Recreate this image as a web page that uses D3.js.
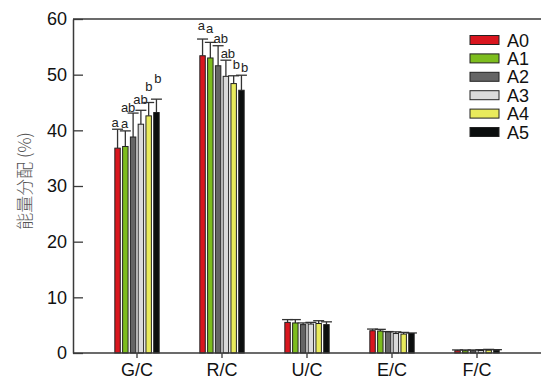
<!DOCTYPE html>
<html><head><meta charset="utf-8">
<script src="https://cdn.jsdelivr.net/npm/d3@7"></script>
<style>body{margin:0;background:#fff}svg{display:block}</style>
</head><body><svg id="c" width="542" height="382"></svg>
<script>
const categories = ["G/C","R/C","U/C","E/C","F/C"];
const series = ["A0","A1","A2","A3","A4","A5"];
const colors = ["#d9161f","#7dbd1e","#656565","#dadada","#e9eb5c","#0b0e0e"];
// mean values per series across categories
const A0 = [36.8, 53.4, 5.5, 4.0, 0.4];
const A1 = [37.1, 53.0, 5.4, 3.95, 0.4];
const A2 = [38.8, 51.6, 5.1, 3.8, 0.4];
const A3 = [41.1, 49.7, 5.2, 3.5, 0.45];
const A4 = [42.6, 48.4, 5.3, 3.4, 0.5];
const A5 = [43.2, 47.2, 5.1, 3.5, 0.5];
// upper error bar ends
const E0 = [40.2, 56.4, 6.0, 4.3, 0.55];
const E1 = [39.9, 55.8, 6.0, 4.25, 0.55];
const E2 = [43.1, 55.2, 5.4, 3.85, 0.55];
const E3 = [43.6, 52.6, 5.5, 3.8, 0.6];
const E4 = [45.0, 49.8, 5.8, 3.7, 0.65];
const E5 = [45.6, 49.9, 5.6, 3.6, 0.6];
// significance letters (only G/C and R/C)
const L_GC = ["a","a","ab","ab","b","b"];
const L_RC = ["a","a","ab","ab","b","b"];
const yTicks = [0,10,20,30,40,50,60];

const means = [A0,A1,A2,A3,A4,A5];
const errs = [E0,E1,E2,E3,E4,E5];
const letters = {"G/C":L_GC,"R/C":L_RC};
// label layout nudges (pixels): horizontal shift, lift above cap
const labelLayout = {
  "G/C": {dx:[-2.5,-0.8,-5,-0.4,0.3,1.5], lift:[2.3,2.7,1,6,11.7,16]},
  "R/C": {dx:[-1.3,-0.6,2.6,2.0,2.8,3.2], lift:[9.5,9,2.5,2.2,6.5,3.0]}
};
const latin = "Liberation Sans, Arial, sans-serif";

const svg = d3.select("#c");
const y = d3.scaleLinear().domain([0,60]).range([353,19]);
const x0 = d3.scaleBand().domain(categories).range([94.5,519.5]).padding(0);
const x1 = d3.scaleBand().domain(series).range([-24.5,24.5]).padding(0.3);
const axisColor = "#3a3a3a";

// bars
categories.forEach((c,ci)=>{
  const cx = x0(c) + x0.bandwidth()/2;
  series.forEach((s,si)=>{
    const bx = cx + x1(s);
    const v = means[si][ci], e = errs[si][ci];
    const mx = bx + x1.bandwidth()/2;
    svg.append("line").attr("x1",mx).attr("x2",mx).attr("y1",y(v)).attr("y2",y(e))
      .attr("stroke","#333").attr("stroke-width",1.3);
    svg.append("line").attr("x1",mx-5.5).attr("x2",mx+5.5).attr("y1",y(e)).attr("y2",y(e))
      .attr("stroke","#333").attr("stroke-width",1.3);
    svg.append("rect").attr("x",bx).attr("y",y(v)).attr("width",x1.bandwidth()).attr("height",y(0)-y(v))
      .attr("fill",colors[si]).attr("stroke","#222").attr("stroke-width",1);
    if(letters[c]){
      const L = labelLayout[c];
      svg.append("text").attr("x",mx+L.dx[si]).attr("y",y(e)-L.lift[si]).attr("text-anchor","middle")
        .style("font-family",latin).attr("font-size",13).attr("fill","#222").text(letters[c][si]);
    }
  });
});

// y axis
const yAxis = d3.axisLeft(y).tickValues(yTicks).tickSizeInner(-10).tickSizeOuter(0).tickPadding(6);
const gy = svg.append("g").attr("transform","translate(73,0)").call(yAxis);
gy.select(".domain").attr("stroke",axisColor).attr("stroke-width",1.5);
gy.selectAll(".tick line").attr("stroke",axisColor).attr("stroke-width",1.3);
gy.selectAll(".tick text").attr("font-size",18).attr("fill","#111").style("font-family",latin);

// x axis
const xAxis = d3.axisBottom(x0).tickSizeInner(5).tickSizeOuter(0).tickPadding(5);
const gx = svg.append("g").attr("transform","translate(0,353)").call(xAxis);
gx.select(".domain").remove();
gx.append("line").attr("x1",73).attr("x2",541).attr("y1",0).attr("y2",0).attr("stroke",axisColor).attr("stroke-width",1.5);
gx.selectAll(".tick line").attr("stroke",axisColor).attr("stroke-width",1.3);
gx.selectAll(".tick text").attr("font-size",18).attr("fill","#111").style("font-family",latin);

// top frame line
svg.append("line").attr("x1",73).attr("x2",541).attr("y1",19).attr("y2",19).attr("stroke",axisColor).attr("stroke-width",1.5);

// y title
svg.append("text").attr("transform","translate(31,181) rotate(-90)").attr("text-anchor","middle")
  .attr("font-size",17).attr("fill","#555").style("font-family","'Noto Sans CJK SC', sans-serif")
  .style("font-weight","300").text("能量分配 (%)");

// legend
const lg = svg.append("g");
series.forEach((s,i)=>{
  const yy = 40 + i*18.4;
  lg.append("rect").attr("x",470).attr("y",yy-4.5).attr("width",29).attr("height",9)
    .attr("fill",colors[i]).attr("stroke","#222").attr("stroke-width",1);
  lg.append("text").attr("x",507).attr("y",yy+6.5).attr("font-size",18).attr("fill","#111")
    .style("font-family",latin).text(s);
});
</script></body></html>
